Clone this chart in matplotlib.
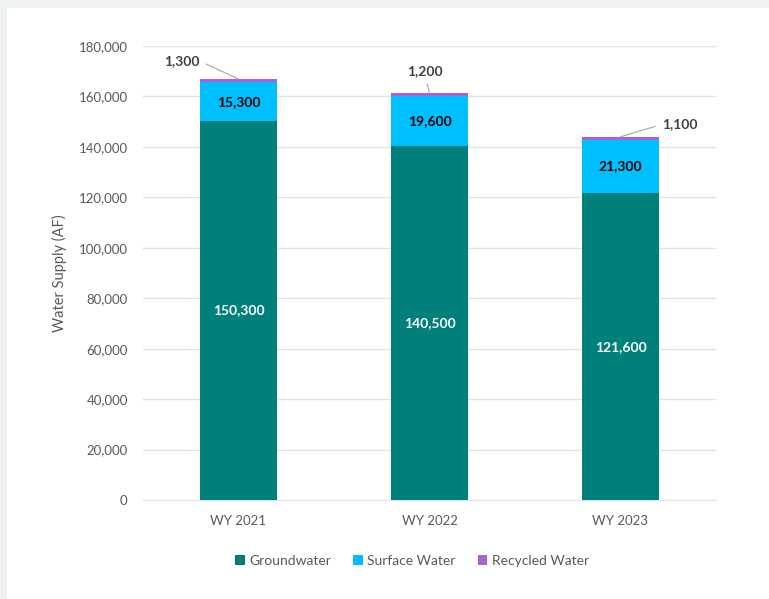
import matplotlib.pyplot as plt
from matplotlib.patches import Rectangle
from matplotlib.ticker import FuncFormatter

plt.rcParams['font.family'] = ['Lato', 'DejaVu Sans']

years = ["WY 2021", "WY 2022", "WY 2023"]
groundwater = [150300, 140500, 121600]
surface = [15300, 19600, 21300]
recycled = [1300, 1200, 1100]

# leader line offsets (points) for the small recycled labels
rec_offsets = [(-28, 13), (-3, 16), (30, 9)]
rec_relpos = [(1, 0.5), (0.5, 0), (0, 0.5)]

c_ground = "#00807a"
c_surf = "#00bfff"
c_rec = "#a463d8"
grid_c = "#e3e3e3"
text_c = "#595959"

fig = plt.figure(figsize=(7.69, 5.99), dpi=100, facecolor="#eef2f1")
fig.patches.append(Rectangle((7 / 769, 0), 1, 1 - 8 / 599, transform=fig.transFigure,
                             facecolor="white", edgecolor="none", zorder=-10))

ax = fig.add_axes([143 / 769, 1 - 500 / 599, (716 - 143) / 769, (500 - 46) / 599])
ax.set_zorder(1)
ax.set_facecolor("white")

x = list(range(len(years)))
w = 0.40
b1 = ax.bar(x, groundwater, w, color=c_ground, label="Groundwater", zorder=3)
b2 = ax.bar(x, surface, w, bottom=groundwater, color=c_surf, label="Surface Water", zorder=3)
tops = [g + s for g, s in zip(groundwater, surface)]
b3 = ax.bar(x, recycled, w, bottom=tops, color=c_rec, label="Recycled Water", zorder=3)

for i in x:
    ax.text(i, groundwater[i] / 2, f"{groundwater[i]:,}", ha="center", va="center",
            color="white", fontsize=10, fontweight="bold", zorder=4)
    ax.text(i, groundwater[i] + surface[i] / 2, f"{surface[i]:,}", ha="center", va="center",
            color="black", fontsize=10, fontweight="bold", zorder=4)
    total = tops[i] + recycled[i]
    ha = {(1, 0.5): "right", (0.5, 0): "center", (0, 0.5): "left"}[rec_relpos[i]]
    ax.annotate(f"{recycled[i]:,}", xy=(i, total), xytext=rec_offsets[i],
                textcoords="offset points", ha=ha, va="center", fontsize=10,
                fontweight="bold", color="#404040", zorder=4,
                arrowprops=dict(arrowstyle="-", color="#a6a6a6", lw=0.8,
                                relpos=rec_relpos[i], shrinkA=3, shrinkB=0))

ax.set_ylim(0, 180000)
ax.set_xlim(-0.5, 2.5)
ax.set_yticks(range(0, 180001, 20000))
ax.yaxis.set_major_formatter(FuncFormatter(lambda v, p: f"{int(v):,}"))
ax.set_xticks(x)
ax.set_xticklabels(years)
ax.tick_params(axis="both", length=0, colors=text_c, labelsize=9.5)
ax.tick_params(axis="y", pad=11)
ax.tick_params(axis="x", pad=11)
ax.grid(axis="y", color=grid_c, lw=1, zorder=0)
for s in ["top", "right", "left"]:
    ax.spines[s].set_visible(False)
ax.spines["bottom"].set_color(grid_c)
ax.set_ylabel("Water Supply (AF)", color=text_c, fontsize=10.5, labelpad=8)

fig.legend(handles=[b1, b2, b3], loc="center", bbox_to_anchor=(412 / 769, 1 - 561 / 599),
           ncol=3, frameon=False, fontsize=10, labelcolor=text_c,
           handlelength=0.7, handleheight=0.7, handletextpad=0.3, columnspacing=1.6)

fig.savefig("out.png", dpi=100, facecolor=fig.get_facecolor())
